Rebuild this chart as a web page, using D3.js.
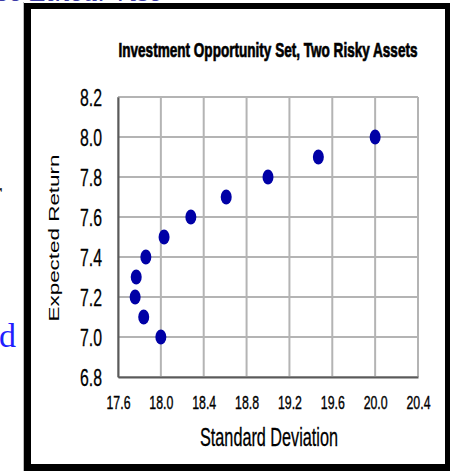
<!DOCTYPE html>
<html>
<head>
<meta charset="utf-8">
<script src="https://cdn.jsdelivr.net/npm/d3@7"></script>
<style>
  body { margin: 0; background: #fff; }
  svg { display: block; }
  .narrow { font-family: "Liberation Sans Narrow", "Arial Narrow", "Liberation Sans", sans-serif; }
</style>
</head>
<body>
<div id="chart"></div>
<script>
const WIDTH = 450, HEIGHT = 471;
const M = { top: 97, right: 32, bottom: 94, left: 118 };
const innerW = WIDTH - M.left - M.right;
const innerH = HEIGHT - M.top - M.bottom;

// portfolio points: std deviation vs expected return
const stdDev = [18.0, 17.84, 17.76, 17.77, 17.86, 18.03, 18.28, 18.61, 19.0, 19.47, 20.0];
const expReturn = [7.0, 7.1, 7.2, 7.3, 7.4, 7.5, 7.6, 7.7, 7.8, 7.9, 8.0];
const xTicks = [17.6, 18.0, 18.4, 18.8, 19.2, 19.6, 20.0, 20.4];
const yTicks = [6.8, 7.0, 7.2, 7.4, 7.6, 7.8, 8.0, 8.2];

const data = stdDev.map((s, i) => ({ sd: s, er: expReturn[i] }));

const svg = d3.select("#chart").append("svg")
  .attr("width", WIDTH).attr("height", HEIGHT);

// bits of the slide behind the chart
svg.append("text")
  .attr("x", -4).attr("y", 1)
  .attr("font-family", "Liberation Serif, serif").attr("font-style", "italic")
  .attr("font-size", 30).attr("fill", "#3b3ba6")
  .text("ce     Linear rise");
svg.append("text")
  .attr("x", -8).attr("y", 202)
  .attr("font-family", "Liberation Serif, serif").attr("font-size", 30).attr("fill", "#222")
  .text("r");
svg.append("text")
  .attr("x", -1).attr("y", 347)
  .attr("font-family", "Liberation Serif, serif").attr("font-size", 34).attr("fill", "#1f1fff")
  .text("d");

// black frame
svg.append("rect").attr("x", 23).attr("y", 2).attr("width", 1).attr("height", 469).attr("fill", "#bbb");
svg.append("rect").attr("x", 24).attr("y", 3).attr("width", 426).attr("height", 468).attr("fill", "#000");
svg.append("rect").attr("x", 31).attr("y", 9).attr("width", 414).attr("height", 455).attr("fill", "#fff");

const g = svg.append("g").attr("transform", `translate(${M.left},${M.top})`);

const x = d3.scaleLinear().domain([17.6, 20.4]).range([0, innerW]);
const y = d3.scaleLinear().domain([6.8, 8.2]).range([innerH, 0]);

// grid
g.append("g").selectAll("line").data(xTicks).join("line")
  .attr("x1", d => x(d)).attr("x2", d => x(d))
  .attr("y1", 0).attr("y2", innerH)
  .attr("stroke", "#b4b4b4").attr("stroke-width", 2);
g.append("g").selectAll("line").data(yTicks).join("line")
  .attr("x1", 0).attr("x2", innerW)
  .attr("y1", d => y(d)).attr("y2", d => y(d))
  .attr("stroke", "#b4b4b4").attr("stroke-width", 2);

// axes
const xAxis = g.append("g").attr("transform", `translate(0,${innerH})`)
  .call(d3.axisBottom(x).tickValues(xTicks).tickFormat(d3.format(".1f")).tickSize(0));
xAxis.select(".domain").attr("stroke", "#5a5a5a").attr("stroke-width", 2);
xAxis.selectAll("text")
  .attr("class", "narrow").attr("font-size", 19).attr("fill", "#000")
  .attr("stroke", "#000").attr("stroke-width", 0.4)
  .attr("y", 32).attr("dy", 0)
  .attr("textLength", 24).attr("lengthAdjust", "spacingAndGlyphs");

const yAxis = g.append("g")
  .call(d3.axisLeft(y).tickValues(yTicks).tickFormat(d3.format(".1f")).tickSize(0).tickPadding(16));
yAxis.select(".domain").attr("stroke", "#5a5a5a").attr("stroke-width", 2);
yAxis.selectAll("text")
  .attr("class", "narrow").attr("font-size", 24).attr("fill", "#000")
  .attr("stroke", "#000").attr("stroke-width", 0.3)
  .attr("dy", "0.36em")
  .attr("textLength", 22).attr("lengthAdjust", "spacingAndGlyphs");

// points
g.selectAll(".dot").data(data).join("ellipse")
  .attr("class", "dot")
  .attr("cx", d => x(d.sd)).attr("cy", d => y(d.er))
  .attr("rx", 5.5).attr("ry", 7.5)
  .attr("fill", "#0000a6");

// labels
svg.append("text").attr("class", "narrow")
  .attr("x", 268).attr("y", 57).attr("text-anchor", "middle")
  .attr("font-size", 20).attr("font-weight", "bold")
  .attr("stroke", "#000").attr("stroke-width", 0.7)
  .attr("textLength", 299).attr("lengthAdjust", "spacingAndGlyphs")
  .text("Investment Opportunity Set, Two Risky Assets");

svg.append("text").attr("class", "narrow")
  .attr("x", 269).attr("y", 446).attr("text-anchor", "middle")
  .attr("font-size", 25)
  .attr("stroke", "#000").attr("stroke-width", 0.3)
  .attr("textLength", 138).attr("lengthAdjust", "spacingAndGlyphs")
  .text("Standard Deviation");

svg.append("text")
  .attr("transform", "translate(59,238) rotate(-90)")
  .attr("text-anchor", "middle")
  .attr("font-family", "Liberation Sans, Arial, sans-serif").attr("font-size", 15)
  .attr("textLength", 167).attr("lengthAdjust", "spacingAndGlyphs")
  .text("Expected Return");
</script>
</body>
</html>
